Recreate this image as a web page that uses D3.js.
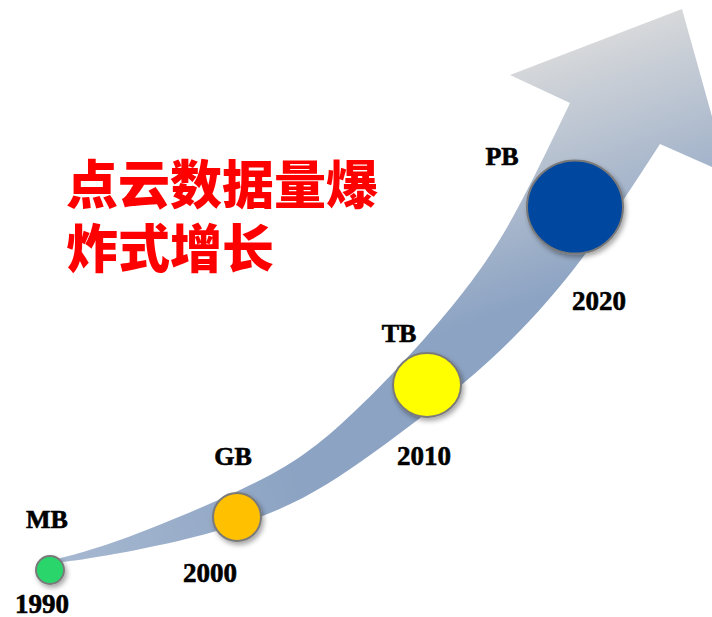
<!DOCTYPE html>
<html>
<head>
<meta charset="utf-8">
<script src="https://cdn.jsdelivr.net/npm/d3@7/dist/d3.min.js"></script>
<style>
  html, body { margin: 0; padding: 0; background: #fff; }
  svg { display: block; }
</style>
</head>
<body>
<svg id="chart" width="712" height="617"></svg>
<script>
// data
var years = [1990, 2000, 2010, 2020];
var units = ["MB", "GB", "TB", "PB"];
var exponent = [2, 3, 4, 5];           // bytes = 1024^exponent
var dotColors = ["#2bd66c", "#ffc000", "#ffff00", "#03479f"];
var titleLines = ["点云数据量爆", "炸式增长"];

// layout of the arrow (upper edge, lower edge, head)
var upperEdge = [[36,564],[120,540],[240,490],[340,425],[457,300],[522,200],[570,103]];
var lowerEdge = [[36,565],[120,553],[260,517],[373,453],[490,360],[583,257],[660,144]];
var head = [[510,75],[682,9],[728,174]];

// label offsets relative to each dot
var unitDx = [-3, -4, -28, -73], unitDy = [-42, -52, -43, -42];
var yearDx = [-8, -27, -3, 24],  yearDy = [43, 65, 80, 103];
var squash = [1, 1, 0.94, 0.97];

var svg = d3.select("#chart");

var defs = svg.append("defs");
var grad = defs.append("linearGradient")
    .attr("id", "arrowGrad")
    .attr("gradientUnits", "userSpaceOnUse")
    .attr("x1", 600).attr("y1", 20)
    .attr("x2", 680).attr("y2", 250);
grad.append("stop").attr("offset", 0).attr("stop-color", "#dcdcdc");
grad.append("stop").attr("offset", 1).attr("stop-color", "#8ca3c3");

// the tail fades a little lighter towards the start
var tailGrad = defs.append("linearGradient")
    .attr("id", "tailGrad")
    .attr("gradientUnits", "userSpaceOnUse")
    .attr("x1", 40).attr("y1", 560)
    .attr("x2", 300).attr("y2", 480);
tailGrad.append("stop").attr("offset", 0).attr("stop-color", "#ffffff").attr("stop-opacity", 0.25);
tailGrad.append("stop").attr("offset", 1).attr("stop-color", "#ffffff").attr("stop-opacity", 0);

var shadow = defs.append("filter").attr("id", "shadow")
    .attr("x", "-30%").attr("y", "-30%").attr("width", "160%").attr("height", "160%");
shadow.append("feDropShadow")
    .attr("dx", 2).attr("dy", 3).attr("stdDeviation", 2.5)
    .attr("flood-color", "#000").attr("flood-opacity", 0.35);

// arrow body
var edgeLine = d3.line().curve(d3.curveNatural);
var up = edgeLine(upperEdge);
var low = edgeLine(lowerEdge.slice().reverse()).replace(/^M/, "L");
var headPart = head.map(function(p) { return "L" + p[0] + "," + p[1]; }).join("");
var arrowD = up + headPart + low + "Z";
svg.append("path")
    .attr("d", arrowD)
    .attr("fill", "url(#arrowGrad)");
svg.append("path")
    .attr("d", arrowD)
    .attr("fill", "url(#tailGrad)");

// scales
var x = d3.scaleLinear().domain(years).range([50, 237, 427, 575]);
var y = d3.scaleLinear().domain(years).range([570, 517, 385, 207]);
var r = d3.scaleLinear().domain(exponent).range([14, 24, 34, 48]);

var dots = years.map(function(yr, i) {
    return {year: yr, unit: units[i], exp: exponent[i], color: dotColors[i], i: i};
});

svg.selectAll(".dot")
    .data(dots)
    .enter().append("ellipse")
    .attr("class", "dot")
    .attr("cx", function(d) { return x(d.year); })
    .attr("cy", function(d) { return y(d.year); })
    .attr("rx", function(d) { return r(d.exp); })
    .attr("ry", function(d) { return r(d.exp) * squash[d.i]; })
    .attr("fill", function(d) { return d.color; })
    .attr("stroke", "#7a7a7a")
    .attr("stroke-width", 2)
    .attr("filter", "url(#shadow)");

var labelFont = "'Liberation Serif', 'Times New Roman', serif";

svg.selectAll(".unit")
    .data(dots)
    .enter().append("text")
    .attr("class", "unit")
    .attr("x", function(d) { return x(d.year) + unitDx[d.i]; })
    .attr("y", function(d) { return y(d.year) + unitDy[d.i]; })
    .attr("text-anchor", "middle")
    .attr("stroke", "#000").attr("stroke-width", 0.6)
    .style("font-family", labelFont)
    .style("font-weight", "bold")
    .style("font-size", "26px")
    .text(function(d) { return d.unit; });

svg.selectAll(".year")
    .data(dots)
    .enter().append("text")
    .attr("class", "year")
    .attr("x", function(d) { return x(d.year) + yearDx[d.i]; })
    .attr("y", function(d) { return y(d.year) + yearDy[d.i]; })
    .attr("text-anchor", "middle")
    .attr("stroke", "#000").attr("stroke-width", 0.6)
    .style("font-family", labelFont)
    .style("font-weight", "bold")
    .style("font-size", "27px")
    .text(function(d) { return d.year; });

// title
svg.selectAll(".title")
    .data(titleLines)
    .enter().append("text")
    .attr("class", "title")
    .attr("x", 66)
    .attr("y", function(d, i) { return 204 + i * 64; })
    .style("font-family", "'Noto Sans CJK SC', sans-serif")
    .style("font-weight", 900)
    .style("font-size", "52px")
    .attr("fill", "#ff0000")
    .text(function(d) { return d; });
</script>
</body>
</html>
